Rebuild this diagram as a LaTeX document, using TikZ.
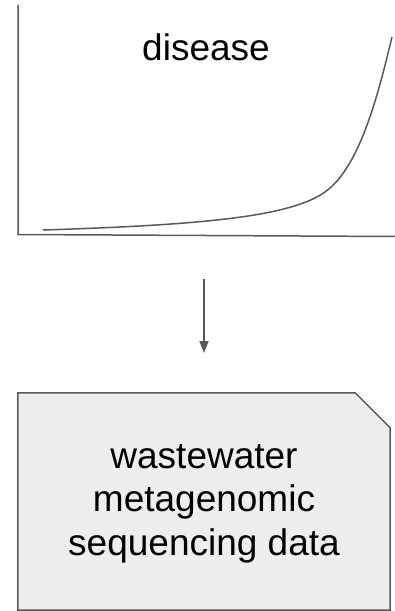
\documentclass[tikz,border=0pt]{standalone}
\usepackage{fontspec}
\setmainfont{Liberation Sans}
\usetikzlibrary{arrows.meta}
\definecolor{linegray}{HTML}{595959}
\definecolor{boxfill}{HTML}{EEEEEE}
\tikzset{
  axisline/.style={draw=linegray, line width=1.5pt},
  curveline/.style={draw=linegray, line width=1.5pt},
  labeltext/.style={font=\fontsize{37}{43.5}\selectfont, text=black, inner sep=0pt},
  connector/.style={draw=linegray, line width=1.5pt, -{Triangle[length=12pt,width=9pt]}},
  databox/.style={draw=linegray, fill=boxfill, line width=1.5pt, line join=miter}
}
\begin{document}
\begin{tikzpicture}[x=1pt,y=-1pt]
\useasboundingbox (0,0) rectangle (395,611);
% axes
\coordinate (ytop) at (18,5);
\coordinate (origin) at (18,234.5);
\coordinate (xend) at (396,236.5);
\draw[axisline] (ytop) -- (origin) -- (xend);
% curve
\coordinate (c0) at (43,230);
\coordinate (c1) at (325,192);
\coordinate (c2) at (392,37);
\draw[curveline] (c0) .. controls (200,225) and (290,217) .. (c1)
  .. controls (360,167) and (378,95) .. (c2);
% title
\node[labeltext, anchor=base] (disease) at (206,60) {disease};
% arrow
\coordinate (atop) at (204,279);
\coordinate (abot) at (204,353);
\draw[connector] (atop) -- (abot);
% box
\node[inner sep=0pt, minimum width=372pt, minimum height=217pt] (box) at (204,501.5) {};
\draw[databox] (box.north west) -- ([xshift=-35pt]box.north east) -- ([yshift=-35pt]box.north east) -- (box.south east) -- (box.south west) -- cycle;
\node[labeltext, align=center, anchor=base] (boxtext) at (204,555) {wastewater\\metagenomic\\sequencing data};
\end{tikzpicture}
\end{document}
